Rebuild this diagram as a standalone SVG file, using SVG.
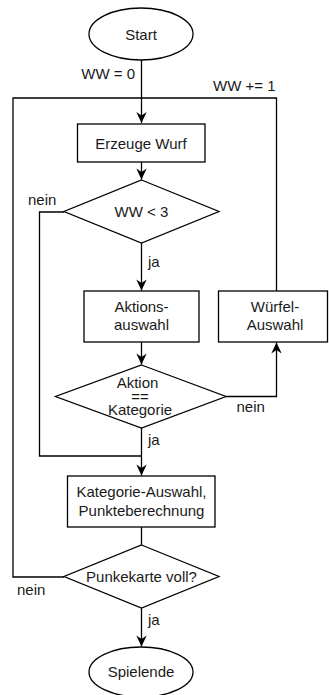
<svg xmlns="http://www.w3.org/2000/svg" width="329" height="695" viewBox="0 0 329 695">
  <style>
    .shape { fill: #ffffff; stroke: #000000; stroke-width: 1.3; }
    .edge { fill: none; stroke: #000000; stroke-width: 1.3; }
    text { font-family: "Liberation Sans", Arial, Helvetica, sans-serif; font-size: 15px; fill: #1a1a1a; }
    .c { text-anchor: middle; }
  </style>
  <defs>
    <marker id="arrow" markerUnits="userSpaceOnUse" markerWidth="14" markerHeight="12" viewBox="0 0 14 12" refX="12" refY="6" orient="auto">
      <path d="M12,6 L1,0.8 L4.5,6 L1,11.2 Z" fill="#000000"/>
    </marker>
  </defs>

  <!-- connectors -->
  <g id="connectors">
    <path class="edge" d="M141.5,60 V123" marker-end="url(#arrow)"/>
    <path class="edge" d="M276.5,291 V98 H141.5"/>
    <path class="edge" d="M64,577 H13 V98 H141.5"/>
    <path class="edge" d="M141.5,162 V179.5" marker-end="url(#arrow)"/>
    <path class="edge" d="M141.5,243 V290.5" marker-end="url(#arrow)"/>
    <path class="edge" d="M64,212 H39.5 V456 H141.5"/>
    <path class="edge" d="M141.5,342 V364.5" marker-end="url(#arrow)"/>
    <path class="edge" d="M226,396.5 H276.5 V342.5" marker-end="url(#arrow)"/>
    <path class="edge" d="M141.5,428 V475.5" marker-end="url(#arrow)"/>
    <path class="edge" d="M141.5,527 V545"/>
    <path class="edge" d="M141.5,608 V646.5" marker-end="url(#arrow)"/>

    <text x="135" y="78.5" text-anchor="end">WW = 0</text>
    <text x="213" y="91">WW += 1</text>
    <text x="28" y="205">nein</text>
    <text x="148" y="267">ja</text>
    <text x="236.5" y="412">nein</text>
    <text x="148" y="445">ja</text>
    <text x="17" y="595">nein</text>
    <text x="148" y="625">ja</text>
  </g>

  <!-- nodes -->
  <g id="start">
    <ellipse class="shape" cx="141" cy="34" rx="52" ry="26"/>
    <text class="c" x="141" y="39.5">Start</text>
  </g>

  <g id="erzeuge-wurf">
    <rect class="shape" x="77.5" y="124" width="127.5" height="38"/>
    <text class="c" x="141" y="148.5">Erzeuge Wurf</text>
  </g>

  <g id="ww-check">
    <polygon class="shape" points="141.5,180 219,211.5 141.5,243 64,211.5"/>
    <text class="c" x="141.5" y="217">WW &lt; 3</text>
  </g>

  <g id="aktionsauswahl">
    <rect class="shape" x="84" y="291" width="115" height="51"/>
    <text class="c" x="141.5" y="312">Aktions-</text>
    <text class="c" x="141.5" y="330">auswahl</text>
  </g>

  <g id="wuerfelauswahl">
    <rect class="shape" x="218.5" y="291" width="109" height="51"/>
    <text class="c" x="275" y="312">Würfel-</text>
    <text class="c" x="275" y="330">Auswahl</text>
  </g>

  <g id="aktion-check">
    <polygon class="shape" points="141.5,365 226,396.5 141.5,428 55.5,396.5"/>
    <text class="c" x="137.5" y="388">Aktion</text>
    <text class="c" x="140" y="401.5">==</text>
    <text class="c" x="140" y="415">Kategorie</text>
  </g>

  <g id="kategorieauswahl">
    <rect class="shape" x="67.5" y="476" width="147.5" height="51"/>
    <text class="c" x="141.5" y="497">Kategorie-Auswahl,</text>
    <text class="c" x="141.5" y="515.5">Punkteberechnung</text>
  </g>

  <g id="punktekarte-check">
    <polygon class="shape" points="141.5,545 219,576.5 141.5,608 64,576.5"/>
    <text class="c" x="141.5" y="582">Punkekarte voll?</text>
  </g>

  <g id="spielende">
    <ellipse class="shape" cx="141" cy="672" rx="52" ry="25"/>
    <text class="c" x="141" y="677">Spielende</text>
  </g>
</svg>
